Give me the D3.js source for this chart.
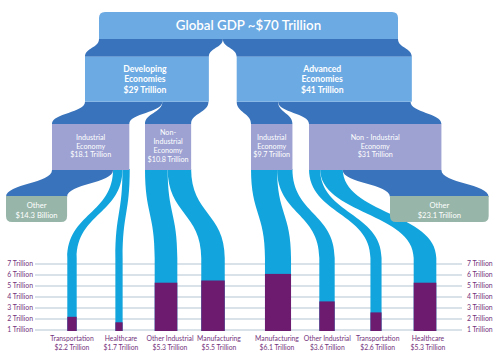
<!DOCTYPE html>
<html><head><meta charset="utf-8">
<script src="https://cdn.jsdelivr.net/npm/d3@7"></script>
<style>body{margin:0;background:#fff} text{font-family:Lato,"Open Sans",sans-serif}</style>
</head><body><svg id="c" width="500" height="360"></svg>
<script>
// ---------- data ----------
const globalLabel = "Global GDP ~$70 Trillion";
const globalValue = 70;
const economyNames = [["Developing", "Economies"], ["Advanced", "Economies"]];
const economyValues = [29, 41];
const economyValueLabels = ["$29 Trillion", "$41 Trillion"];
const sectorNames = [["Industrial", "Economy"], ["Non-", "Industrial", "Economy"], ["Industrial", "Economy"], ["Non - Industrial", "Economy"]];
const sectorValues = [18.1, 10.8, 9.7, 31];
const sectorValueLabels = ["$18.1 Trillion", "$10.8 Trillion", "$9.7 Trillion", "$31 Trillion"];
const sectorParent = [0, 0, 1, 1];
const otherNames = ["Other", "Other"];
const otherValues = [14.3, 23.1];
const otherValueLabels = ["$14.3 Billion", "$23.1 Trillion"];
const otherParent = [0, 3];
const industryNames = ["Transportation", "Healthcare", "Other Industrial", "Manufacturing", "Manufacturing", "Other Industrial", "Transportation", "Healthcare"];
const industryValues = [2.2, 1.7, 5.3, 5.5, 6.1, 3.6, 2.6, 5.3];
const industryValueLabels = ["$2.2 Trillion", "$1.7 Trillion", "$5.3 Trillion", "$5.5 Trillion", "$6.1 Trillion", "$3.6 Trillion", "$2.6 Trillion", "$5.3 Trillion"];
const industryParent = [0, 0, 1, 1, 2, 2, 3, 3];
const tickValues = [1, 2, 3, 4, 5, 6, 7];
const tickLabels = ["1 Trillion", "2 Trillion", "3 Trillion", "4 Trillion", "5 Trillion", "6 Trillion", "7 Trillion"];

// ---------- styles ----------
const COL = {box: "#6caae3", dark: "#3873bb", lav: "#9da2d2", sage: "#97b6a9", flow: "#12a5dd", bar: "#6d1b6f", txt: "#74347c", grid: "#b4c5d2"};

// ---------- scales / layout ----------
const k = d3.scaleLinear().domain([0, globalValue]).range([0, 299]);
const y = d3.scaleLinear().domain([1, 7]).range([330, 264]);
const base = y(1) + 1;
const leftX = d3.scalePoint().domain([0, 1, 2, 3]).range([72, 213]);
const rightX = d3.scalePoint().domain([4, 5, 6, 7]).range([278, 425]);
const barX = i => i < 4 ? leftX(i) : rightX(i);
const leftLX = d3.scalePoint().domain([0, 1, 2, 3]).range([72, 219]);
const rightLX = d3.scalePoint().domain([4, 5, 6, 7]).range([277, 428]);
const labelX = i => i < 4 ? leftLX(i) : rightLX(i);

const L1 = {x: 99, y0: 12, y1: 39};
const L2 = {x: [85, 236.7], y0: 56.7, y1: 101.7};
const L3 = {x: [52, 145, 251, 309], y0: 124, y1: 170};
const LO = {x: [6, 390], y0: 196, y1: 222};
const curveEnd = 258;

const svg = d3.select("#c");
function ribbon(sx0, sx1, y0, tx0, tx1, y1) {
  const m = (y0 + y1) / 2;
  return `M${sx0},${y0}C${sx0},${m} ${tx0},${m} ${tx0},${y1}L${tx1},${y1}C${tx1},${m} ${sx1},${m} ${sx1},${y0}Z`;
}
function flowPath(sx0, sx1, y0, tx0, tx1, y1, yb) {
  const m = (y0 + y1) / 2;
  return `M${sx0},${y0}C${sx0},${m} ${tx0},${m} ${tx0},${y1}L${tx0},${yb}L${tx1},${yb}L${tx1},${y1}C${tx1},${m} ${sx1},${m} ${sx1},${y0}Z`;
}

// gridlines
const g0 = svg.append("g");
g0.selectAll("line").data(tickValues).join("line")
  .attr("x1", 35).attr("x2", 462).attr("y1", d => y(d)).attr("y2", d => y(d))
  .attr("stroke", COL.grid).attr("stroke-width", 1.2);
g0.selectAll("text.l").data(tickValues).join("text").attr("class", "l")
  .attr("x", 33).attr("y", d => y(d)).attr("dy", "0.35em").attr("text-anchor", "end")
  .attr("font-size", 6.9).attr("fill", COL.txt).text((d, i) => tickLabels[i]);
g0.selectAll("text.r").data(tickValues).join("text").attr("class", "r")
  .attr("x", 467).attr("y", d => y(d)).attr("dy", "0.35em").attr("text-anchor", "start")
  .attr("font-size", 6.9).attr("fill", COL.txt).text((d, i) => tickLabels[i]);

// L1 -> L2 ribbons
let off = L1.x;
economyValues.forEach((v, i) => {
  const w = k(v);
  svg.append("path").attr("d", ribbon(off, off + w, L1.y1, L2.x[i], L2.x[i] + w, L2.y0)).attr("fill", COL.dark);
  off += w;
});
// L2 -> L3 ribbons
const econOff = L2.x.slice();
sectorValues.forEach((v, i) => {
  const p = sectorParent[i], w = k(v);
  svg.append("path").attr("d", ribbon(econOff[p], econOff[p] + w, L2.y1, L3.x[i], L3.x[i] + w, L3.y0)).attr("fill", COL.dark);
  econOff[p] += w;
});
// L3 -> outputs
sectorValues.forEach((v, s) => {
  const items = [];
  otherParent.forEach((p, j) => { if (p === s && j === 0) items.push({t: "o", j}); });
  industryParent.forEach((p, j) => { if (p === s) items.push({t: "i", j}); });
  otherParent.forEach((p, j) => { if (p === s && j === 1) items.push({t: "o", j}); });
  let o = L3.x[s];
  items.forEach(it => {
    if (it.t === "o") {
      const w = k(otherValues[it.j]);
      svg.append("path").attr("d", ribbon(o, o + w, L3.y1, LO.x[it.j], LO.x[it.j] + w, LO.y0 + 1)).attr("fill", COL.dark);
      o += w;
    } else {
      const w = k(industryValues[it.j]), cx = barX(it.j);
      svg.append("path").attr("d", flowPath(o, o + w, L3.y1 - 1, cx - w / 2, cx + w / 2, curveEnd, base)).attr("fill", COL.flow);
      o += w;
    }
  });
});

// bars
svg.selectAll("rect.bar").data(industryValues).join("rect").attr("class", "bar")
  .attr("x", (d, i) => barX(i) - k(d) / 2).attr("width", d => k(d))
  .attr("y", d => y(d)).attr("height", d => base - y(d)).attr("fill", COL.bar);

// bottom labels
svg.selectAll("text.n").data(industryNames).join("text").attr("class", "n")
  .attr("x", (d, i) => labelX(i)).attr("y", 338.5).attr("dy", "0.35em").attr("text-anchor", "middle")
  .attr("font-size", 6.8).attr("fill", COL.txt).text(d => d);
svg.selectAll("text.v").data(industryValueLabels).join("text").attr("class", "v")
  .attr("x", (d, i) => labelX(i)).attr("y", 347.5).attr("dy", "0.35em").attr("text-anchor", "middle")
  .attr("font-size", 6.8).attr("fill", COL.txt).text(d => d);

// boxes
function topRounded(x0, x1, y0, y1, r) {
  return `M${x0},${y1}L${x0},${y0 + r}Q${x0},${y0} ${x0 + r},${y0}L${x1 - r},${y0}Q${x1},${y0} ${x1},${y0 + r}L${x1},${y1}Z`;
}
function bottomRounded(x0, x1, y0, y1, r) {
  return `M${x0},${y0}L${x1},${y0}L${x1},${y1 - r}Q${x1},${y1} ${x1 - r},${y1}L${x0 + r},${y1}Q${x0},${y1} ${x0},${y1 - r}Z`;
}
const gw = k(globalValue);
svg.append("path").attr("d", topRounded(L1.x, L1.x + gw, L1.y0, L1.y1, 6)).attr("fill", COL.box);
svg.append("text").attr("x", L1.x + gw / 2).attr("y", (L1.y0 + L1.y1) / 2).attr("dy", "0.35em")
  .attr("text-anchor", "middle").attr("font-size", 13.3).attr("font-weight", 600).attr("fill", "#fff").text(globalLabel);

economyValues.forEach((v, i) => {
  const w = k(v);
  svg.append("rect").attr("x", L2.x[i]).attr("y", L2.y0).attr("width", w).attr("height", L2.y1 - L2.y0).attr("fill", COL.box);
  const lines = economyNames[i].concat([economyValueLabels[i]]);
  const cx = L2.x[i] + w / 2 - 2;
  svg.append("g").selectAll("text").data(lines).join("text")
    .attr("x", cx).attr("y", (d, j) => 68.5 + j * 10.6).attr("dy", "0.35em").attr("text-anchor", "middle")
    .attr("font-size", 8.6).attr("font-weight", 700).attr("fill", "#fff").text(d => d);
});

sectorValues.forEach((v, i) => {
  const w = k(v);
  svg.append("rect").attr("x", L3.x[i]).attr("y", L3.y0).attr("width", w).attr("height", L3.y1 - L3.y0).attr("fill", COL.lav);
  const lines = sectorNames[i].concat([sectorValueLabels[i]]);
  const cx = L3.x[i] + w / 2;
  const mid = (L3.y0 + L3.y1) / 2 - 1;
  const lh = 8.8;
  svg.append("g").selectAll("text").data(lines).join("text")
    .attr("x", cx).attr("y", (d, j) => mid + (j - (lines.length - 1) / 2) * lh).attr("dy", "0.35em").attr("text-anchor", "middle")
    .attr("font-size", 7.2).attr("fill", "#fff").text(d => d);
});

otherValues.forEach((v, i) => {
  const w = k(v);
  svg.append("path").attr("d", bottomRounded(LO.x[i], LO.x[i] + w, LO.y0, LO.y1, 6)).attr("fill", COL.sage);
  const cx = LO.x[i] + w / 2;
  svg.append("g").selectAll("text").data([otherNames[i], otherValueLabels[i]]).join("text")
    .attr("x", cx).attr("y", (d, j) => 205.5 + j * 9.5).attr("dy", "0.35em").attr("text-anchor", "middle")
    .attr("font-size", 7.6).attr("fill", "#fff").text(d => d);
});
</script></body></html>
